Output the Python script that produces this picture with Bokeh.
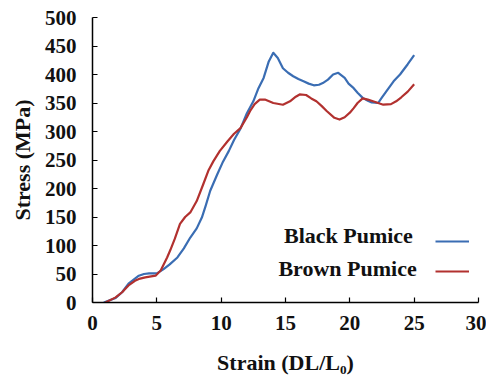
from bokeh.plotting import figure
from bokeh.models import Range1d, SingleIntervalTicker, Label, Legend, LegendItem
from bokeh.embed import file_html
from bokeh.resources import INLINE

black_strain = [0.88, 1.8, 2.3, 2.8, 3.3, 3.6, 4.0, 4.4, 5.0, 5.5, 6.0, 6.6, 7.1, 7.6, 8.1,
                8.5, 8.8, 9.15, 9.7, 10.1, 10.6, 11.0, 11.5, 12.0, 12.5, 12.9, 13.3, 13.7,
                14.05, 14.4, 14.8, 15.2, 15.6, 16.0, 16.4, 16.8, 17.2, 17.6, 17.9, 18.3,
                18.7, 19.1, 19.6, 19.9, 20.3, 20.6, 21.0, 21.4, 21.7, 22.2, 22.5, 22.85,
                23.4, 23.9, 24.5, 25.0]
black_stress = [0, 8, 18, 33, 42, 47, 50, 51, 51, 58, 67, 79, 95, 114, 130,
                149, 170, 196, 225, 245, 266, 285, 305, 332, 353, 376, 394, 423,
                438, 429, 411, 403, 397, 392, 388, 384, 381, 382, 385, 391,
                400, 403, 394, 384, 376, 368, 359, 354, 351, 350, 360, 371,
                388, 400, 418, 434]

brown_strain = [1.0, 1.8, 2.3, 2.8, 3.3, 3.7, 4.1, 4.9, 5.3, 5.8, 6.05, 6.4, 6.8, 7.2, 7.6,
                8.1, 8.6, 9.0, 9.4, 9.9, 10.5, 11.0, 11.5, 12.0, 12.25, 12.6, 13.0, 13.4,
                14.05, 14.8, 15.35, 15.8, 16.1, 16.6, 17.0, 17.4, 17.8, 18.2, 18.8, 19.2,
                19.6, 20.0, 20.3, 20.6, 21.0, 21.4, 21.8, 22.2, 22.6, 23.2, 23.6, 24.0,
                24.5, 25.0]
brown_stress = [0, 9, 18, 30, 38, 42, 44, 47, 56, 79, 92, 112, 138, 150, 158,
                178, 207, 231, 248, 266, 283, 296, 306, 325, 336, 348, 356, 356,
                350, 347, 353, 361, 365, 364, 358, 353, 345, 336, 324, 321,
                325, 333, 341, 350, 358, 356, 353, 350, 347, 348, 353, 360,
                370, 383]

series_names = ["Black Pumice", "Brown Pumice"]
colors = ["#3a6db3", "#b2312f"]

FONT = "Liberation Serif"

p = figure(width=486, height=378, output_backend="svg", toolbar_location=None,
           x_range=Range1d(0, 30), y_range=Range1d(0, 500),
           min_border_left=92, min_border_right=8, min_border_top=17, min_border_bottom=76)
p.outline_line_color = None
p.grid.visible = False
p.background_fill_color = "white"

r1 = p.line(black_strain, black_stress, line_color=colors[0], line_width=2.2, line_join="round")
r2 = p.line(brown_strain, brown_stress, line_color=colors[1], line_width=2.2, line_join="round")

p.xaxis.ticker = SingleIntervalTicker(interval=5)
p.yaxis.ticker = SingleIntervalTicker(interval=50)
for ax in (p.xaxis, p.yaxis):
    ax.minor_tick_line_color = None
    ax.major_tick_in = 5
    ax.major_tick_out = 0
    ax.axis_line_color = "black"
    ax.axis_line_width = 1.5
    ax.major_tick_line_color = "black"
    ax.major_tick_line_width = 1.2
    ax.major_label_text_font = FONT
    ax.major_label_text_font_style = "bold"
    ax.major_label_text_font_size = "21px"
    ax.major_label_text_color = "#111111"
    ax.axis_label_text_font = FONT
    ax.axis_label_text_font_style = "bold"
    ax.axis_label_text_font_size = "22px"
    ax.axis_label_text_color = "#111111"

p.xaxis.major_label_standoff = 9
p.yaxis.major_label_standoff = 12
p.xaxis.axis_label = "Strain (DL/L\u2080)"
p.yaxis.axis_label = "Stress (MPa)"
p.xaxis.axis_label_standoff = 17
p.yaxis.axis_label_standoff = 7

legend = Legend(items=[LegendItem(label=" ", renderers=[r1]),
                       LegendItem(label=" ", renderers=[r2])],
                location=(343, 21), padding=0, margin=0, spacing=10,
                glyph_width=34, glyph_height=20, label_height=20,
                label_standoff=0, label_width=0, label_text_font_size="1px",
                border_line_color=None, background_fill_alpha=0)
p.add_layout(legend)

label_y = [117, 60]
label_x = [24.9, 25.2]
for name, lx, ly in zip(series_names, label_x, label_y):
    p.add_layout(Label(x=lx, y=ly, text=name, text_align="right", text_baseline="middle",
                       text_font=FONT, text_font_style="bold", text_font_size="22px",
                       text_color="#111111"))

open("out.html", "w").write(file_html(p, INLINE))
